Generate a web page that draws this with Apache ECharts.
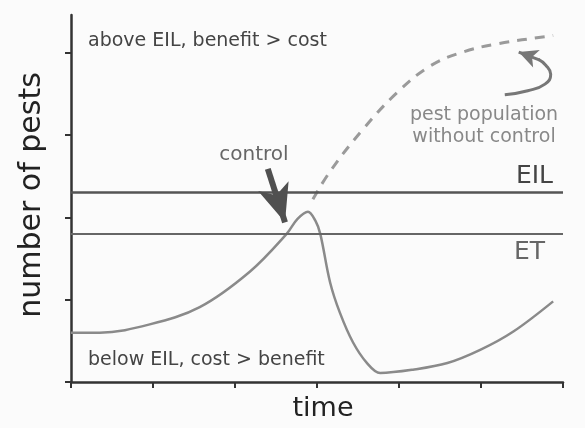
<!DOCTYPE html>
<html><head><meta charset="utf-8">
<script src="https://cdn.jsdelivr.net/npm/echarts@6/dist/echarts.min.js"></script>
<style>html,body{margin:0;padding:0;background:#fbfbfb}#c{width:585px;height:428px}</style>
</head><body><div id="c"></div>
<script>
// x: time (0..6), y: number of pests (axis units)
var xTicks = [0, 1, 2, 3, 4, 5, 6];
var yTicks = [0, 1, 2, 3, 4];
var EIL = 2.30;
var ET = 1.80;
var withControl = [
  [0,0.60],[0.35,0.60],[0.96,0.70],[1.57,0.91],[2.18,1.34],[2.63,1.80],[2.76,1.98],
  [2.89,2.07],[2.98,1.96],[3.04,1.80],[3.16,1.21],[3.28,0.84],[3.44,0.48],
  [3.61,0.23],[3.77,0.11],[4.17,0.15],[4.59,0.23],[4.99,0.39],[5.39,0.61],[5.88,0.98]
];
var withoutControl = [
  [2.95,2.22],[3.16,2.56],[3.56,3.07],[3.98,3.52],[4.38,3.84],[4.78,4.01],[5.20,4.11],[5.80,4.20],[5.88,4.21]
];
var controlArrow = [[2.40,2.59],[2.61,1.94]];
var curvedArrowPath = [[5.29,3.49],[5.57,3.54],[5.78,3.62],[5.85,3.74],[5.79,3.85],[5.70,3.92]];
var curvedArrowHead = [[5.71,3.915],[5.46,4.01]];

var F = '"DejaVu Sans"';
var chart = echarts.init(document.getElementById('c'));
chart.setOption({
  backgroundColor: '#fbfbfb',
  animation: false,
  grid: {left: 71, right: 22, top: 15, bottom: 46},
  xAxis: {
    type: 'value', min: xTicks[0], max: xTicks[xTicks.length-1], interval: 1,
    axisLine: {lineStyle: {color: '#333', width: 2.5}},
    axisTick: {show: true, length: 6, lineStyle: {color: '#333', width: 2}},
    axisLabel: {show: false}, splitLine: {show: false}
  },
  yAxis: {
    type: 'value', min: yTicks[0], max: 4.46, interval: 1,
    axisLine: {lineStyle: {color: '#333', width: 2.5}},
    axisTick: {show: true, length: 6, customValues: yTicks, lineStyle: {color: '#333', width: 2}},
    axisLabel: {show: false}, splitLine: {show: false}
  },
  series: [
    {
      type: 'line', data: withoutControl, smooth: 0.4, showSymbol: false,
      lineStyle: {color: '#9a9a9a', width: 3, type: [10, 8]}
    },
    {
      type: 'line', data: withControl, smooth: 0.35, showSymbol: false,
      lineStyle: {color: '#8a8a8a', width: 2.5},
      markLine: {
        silent: true, symbol: 'none', label: {show: false},
        lineStyle: {color: '#555', width: 2.5, type: 'solid'},
        data: [
          [{coord: [0, EIL]}, {coord: [6, EIL]}],
          [{coord: [0, ET], lineStyle: {color: '#666', width: 2}}, {coord: [6, ET]}]
        ]
      }
    },
    {
      type: 'line', data: [],
      markLine: {
        silent: true, label: {show: false},
        symbol: ['none', 'arrow'], symbolSize: [24, 38],
        lineStyle: {color: '#505050', width: 6, type: 'solid'},
        data: [[{coord: controlArrow[0]}, {coord: controlArrow[1]}]]
      }
    },
    {
      type: 'line', data: curvedArrowPath, smooth: 0.5, showSymbol: false,
      lineStyle: {color: '#777', width: 3},
      markLine: {
        silent: true, label: {show: false},
        symbol: ['none', 'arrow'], symbolSize: [14, 19],
        lineStyle: {color: '#777', width: 3, type: 'solid'},
        data: [[{coord: curvedArrowHead[0]}, {coord: curvedArrowHead[1]}]]
      }
    }
  ],
  graphic: [
    {type: 'text', x: 88, y: 41, style: {text: 'above EIL, benefit > cost', font: '19px ' + F, fill: '#444', textVerticalAlign: 'middle'}},
    {type: 'text', x: 88, y: 360, style: {text: 'below EIL, cost > benefit', font: '19px ' + F, fill: '#444', textVerticalAlign: 'middle'}},
    {type: 'text', x: 254, y: 155, style: {text: 'control', font: '20px ' + F, fill: '#666', textAlign: 'center', textVerticalAlign: 'middle'}},
    {type: 'text', x: 553, y: 176, style: {text: 'EIL', font: '25px ' + F, fill: '#444', textAlign: 'right', textVerticalAlign: 'middle'}},
    {type: 'text', x: 545, y: 252, style: {text: 'ET', font: '25px ' + F, fill: '#666', textAlign: 'right', textVerticalAlign: 'middle'}},
    {type: 'text', x: 484, y: 126, style: {text: 'pest population\nwithout control', font: '19px ' + F, fill: '#888', lineHeight: 22, textAlign: 'center', textVerticalAlign: 'middle'}},
    {type: 'text', x: 32, y: 195, rotation: Math.PI / 2, style: {text: 'number of pests', font: '30px ' + F, fill: '#222', textAlign: 'center', textVerticalAlign: 'middle'}},
    {type: 'text', x: 323, y: 409, style: {text: 'time', font: '27px ' + F, fill: '#222', textAlign: 'center', textVerticalAlign: 'middle'}}
  ]
});
</script></body></html>
